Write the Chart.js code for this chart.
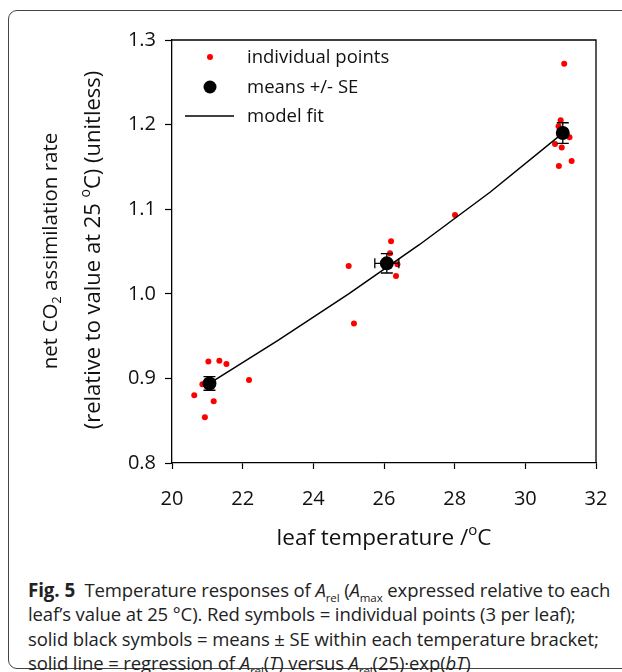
<!DOCTYPE html>
<html>
<head>
<meta charset="utf-8">
<script src="https://cdn.jsdelivr.net/npm/chart.js@4.4.0/dist/chart.umd.min.js"></script>
<style>
  body { margin: 0; background: #fff; width: 622px; height: 672px; overflow: hidden; position: relative; }
  #frame { position: absolute; left: 8px; top: 10px; width: 720px; height: 657px; border: 1.5px solid #444; border-radius: 9px; }
  #graph { position: absolute; left: 0; top: 0; }
  .cap { position: absolute; left: 28px; top: 578px; font-family: "Open Sans", sans-serif; font-size: 18.5px; line-height: 24.4px; color: #222; white-space: nowrap; letter-spacing: -0.1px; }
  .cap sub { font-size: 11.5px; line-height: 0; }
  .cap b { font-size: 18.8px; }
</style>
</head>
<body>
<div id="frame"></div>
<canvas id="graph" width="622" height="565"></canvas>
<div class="cap">
<b>Fig. 5</b>&nbsp; Temperature responses of <i>A</i><sub>rel</sub> (<i>A</i><sub>max</sub> expressed relative to each<br>
leaf’s value at 25 °C). Red symbols = individual points (3 per leaf);<br>
solid black symbols = means ± SE within each temperature bracket;<br>
solid line = regression of <i>A</i><sub>rel</sub>(<i>T</i>) versus <i>A</i><sub>rel</sub>(25)·exp(<i>bT</i>)
</div>
<script>
// individual leaf points
const pointTemps = [21.03, 21.34, 21.54, 22.18, 20.86, 20.63, 21.18, 20.93,
                    25.15, 25.0, 28.01,
                    26.20, 26.17, 26.38, 26.34,
                    31.10, 31.0, 30.94, 31.25, 30.84, 31.03, 31.31, 30.95];
const pointRates = [0.920, 0.921, 0.917, 0.898, 0.893, 0.880, 0.873, 0.854,
                    0.965, 1.033, 1.093,
                    1.062, 1.048, 1.035, 1.021,
                    1.272, 1.205, 1.198, 1.185, 1.177, 1.173, 1.157, 1.151];

// bracket means with SE
const meanTemps = [21.06, 26.08, 31.06];
const meanRates = [0.894, 1.036, 1.190];
const meanTempSE = [0.10, 0.34, 0.10];
const meanRateSE = [0.008, 0.0114, 0.0122];

// model fit curve
const fitTemps = [21.06, 23, 25, 27, 29, 31.06];
const fitRates = [0.894, 0.945, 1.000, 1.058, 1.120, 1.190];

const xTicks = [20, 22, 24, 26, 28, 30, 32];
const yTicks = [0.8, 0.9, 1.0, 1.1, 1.2, 1.3];

const FONT = '"Open Sans", sans-serif';

function drawRich(ctx, parts, size) {
    // parts: [text, mode] mode: '' | 'sub' | 'sup'; drawn centred at origin
    const small = Math.round(size * 0.65);
    let total = 0;
    const widths = parts.map(([t, m]) => {
        ctx.font = (m ? small : size) + 'px ' + FONT;
        const w = ctx.measureText(t).width;
        total += w;
        return w;
    });
    let x = -total / 2;
    parts.forEach(([t, m], i) => {
        ctx.font = (m ? small : size) + 'px ' + FONT;
        let dy = 0;
        if (m === 'sub') dy = size * 0.3;
        if (m === 'sup') dy = -size * 0.38;
        ctx.fillText(t, x, dy);
        x += widths[i];
    });
}

const extras = {
    id: 'extras',
    afterDatasetsDraw(chart) {
        const ctx = chart.ctx;
        const xs = chart.scales.x, ys = chart.scales.y;
        ctx.save();
        ctx.strokeStyle = '#000';
        ctx.lineWidth = 1.3;
        meanTemps.forEach((t, i) => {
            const px = xs.getPixelForValue(t), py = ys.getPixelForValue(meanRates[i]);
            const y1 = ys.getPixelForValue(meanRates[i] + meanRateSE[i]);
            const y2 = ys.getPixelForValue(meanRates[i] - meanRateSE[i]);
            const x1 = xs.getPixelForValue(t - meanTempSE[i]);
            const x2 = xs.getPixelForValue(t + meanTempSE[i]);
            ctx.beginPath();
            ctx.moveTo(px, y1); ctx.lineTo(px, y2);
            ctx.moveTo(px - 6, y1); ctx.lineTo(px + 6, y1);
            ctx.moveTo(px - 6, y2); ctx.lineTo(px + 6, y2);
            ctx.moveTo(x1, py); ctx.lineTo(x2, py);
            ctx.moveTo(x1, py - 5); ctx.lineTo(x1, py + 5);
            ctx.moveTo(x2, py - 5); ctx.lineTo(x2, py + 5);
            ctx.stroke();
        });
        ctx.restore();
    },
    afterDraw(chart) {
        const ctx = chart.ctx;
        const a = chart.chartArea;
        ctx.save();
        // top and right frame of plot
        ctx.strokeStyle = '#000';
        ctx.lineWidth = 1.3;
        ctx.beginPath();
        ctx.moveTo(a.left, a.top); ctx.lineTo(a.right, a.top); ctx.lineTo(a.right, a.bottom);
        ctx.stroke();

        // legend
        const ds = chart.data.datasets;
        ctx.font = '18.5px ' + FONT;
        ctx.textBaseline = 'middle';
        ctx.textAlign = 'left';
        ctx.fillStyle = ds[2].backgroundColor;
        ctx.beginPath(); ctx.arc(210, 57, 3, 0, Math.PI * 2); ctx.fill();
        ctx.fillStyle = ds[0].backgroundColor;
        ctx.beginPath(); ctx.arc(210, 87, 6.5, 0, Math.PI * 2); ctx.fill();
        ctx.strokeStyle = ds[1].borderColor;
        ctx.lineWidth = 1.5;
        ctx.beginPath(); ctx.moveTo(185, 116); ctx.lineTo(234, 116); ctx.stroke();
        ctx.fillStyle = '#111';
        ctx.fillText(ds[2].label, 247, 58);
        ctx.fillText(ds[0].label, 247, 88);
        ctx.fillText(ds[1].label, 247, 117);

        // axis titles
        ctx.save();
        ctx.translate(384, 539);
        drawRich(ctx, [['leaf temperature /', ''], ['o', 'sup'], ['C', '']], 22.5);
        ctx.restore();

        ctx.save();
        ctx.translate(51, 251);
        ctx.rotate(-Math.PI / 2);
        drawRich(ctx, [['net CO', ''], ['2', 'sub'], [' assimilation rate', '']], 20.5);
        ctx.restore();
        ctx.save();
        ctx.translate(94, 250);
        ctx.rotate(-Math.PI / 2);
        drawRich(ctx, [['(relative to value at 25 ', ''], ['o', 'sup'], ['C) (unitless)', '']], 22);
        ctx.restore();
        ctx.restore();
    }
};

new Chart(document.querySelector('#graph'), {
    data: {
        datasets: [
            {
                type: 'scatter',
                label: 'means +/- SE',
                data: meanTemps.map((t, i) => ({ x: t, y: meanRates[i] })),
                backgroundColor: '#000',
                borderWidth: 0,
                pointRadius: 7
            },
            {
                type: 'line',
                label: 'model fit',
                data: fitTemps.map((t, i) => ({ x: t, y: fitRates[i] })),
                borderColor: '#000',
                borderWidth: 1.5,
                pointRadius: 0,
                tension: 0,
                fill: false
            },
            {
                type: 'scatter',
                label: 'individual points',
                data: pointTemps.map((t, i) => ({ x: t, y: pointRates[i] })),
                backgroundColor: '#ff0000',
                borderWidth: 0,
                pointRadius: 3
            }
        ]
    },
    options: {
        responsive: false,
        animation: false,
        devicePixelRatio: 1,
        layout: { padding: { top: 40, right: 26, left: 0, bottom: 0 } },
        plugins: { legend: { display: false }, tooltip: { enabled: false } },
        scales: {
            x: {
                type: 'linear',
                min: 20, max: 32,
                afterFit: s => { s.height = 102; s.paddingLeft = 0; s.paddingRight = 0; },
                afterBuildTicks: s => { s.ticks = xTicks.map(v => ({ value: v })); },
                ticks: { color: '#111', font: { family: FONT, size: 20 }, padding: 18 },
                grid: { drawOnChartArea: false, color: '#000', tickLength: 6, tickWidth: 1.2 },
                border: { color: '#000', width: 1.3 }
            },
            y: {
                type: 'linear',
                min: 0.8, max: 1.3,
                afterFit: s => { s.width = 172; s.paddingTop = 0; s.paddingBottom = 0; },
                afterBuildTicks: s => { s.ticks = yTicks.map(v => ({ value: v })); },
                ticks: { color: '#111', font: { family: FONT, size: 20 }, padding: 9,
                         callback: v => v.toFixed(1) },
                grid: { drawOnChartArea: false, color: '#000', tickLength: 7, tickWidth: 1.2 },
                border: { color: '#000', width: 1.3 }
            }
        }
    },
    plugins: [extras]
});
</script>
</body>
</html>
